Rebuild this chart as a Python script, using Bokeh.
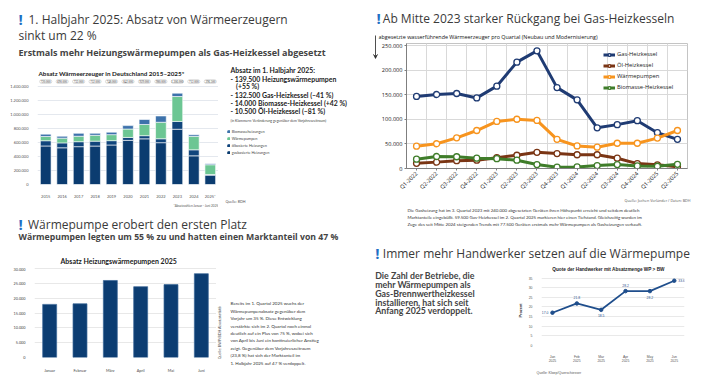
import math
from bokeh.plotting import figure
from bokeh.layouts import row, column
from bokeh.models import (ColumnDataSource, Label, Legend, LegendItem, FixedTicker,
                          Range1d, Arrow, VeeHead, Title)
from bokeh.embed import file_html
from bokeh.resources import INLINE

# ---------------- data ----------------
years = ["2015", "2016", "2017", "2018", "2019", "2020", "2021", "2022", "2023", "2024", "2025*"]
gas_annual = [551000, 525000, 541000, 550000, 565000, 631000, 653000, 598000, 790000, 410000, 132500]
oil_annual = [75000, 70000, 71000, 70000, 62000, 42000, 45000, 56000, 112000, 86000, 10500]
wp_annual = [61000, 68000, 78000, 84000, 86000, 120000, 160000, 236000, 356000, 193000, 139500]
bio_annual = [33000, 27000, 42000, 28000, 35000, 49000, 71000, 90000, 48000, 23000, 14000]
total_labels = ["720.000", "690.000", "732.000", "732.000", "748.000", "842.000", "929.000",
                "980.000", "1.306.000", "712.000", "296.500"]
annual_ticks = [0, 200000, 400000, 600000, 800000, 1000000, 1200000, 1400000]
annual_tick_labels = ["0", "200.000", "400.000", "600.000", "800.000", "1.000.000", "1.200.000", "1.400.000"]

quarters = ["Q1-2022", "Q2-2022", "Q3-2022", "Q4-2022", "Q1-2023", "Q2-2023", "Q3-2023",
            "Q4-2023", "Q1-2024", "Q2-2024", "Q3-2024", "Q4-2024", "Q1-2025", "Q2-2025"]
gas_q = [147000, 151000, 153000, 144000, 168000, 217000, 240000, 165000, 140000, 83000, 89500, 97500, 73000, 59500]
oil_q = [10500, 13000, 16000, 17000, 22000, 27000, 33000, 30500, 28000, 28000, 21000, 10000, 7500, 3500]
wp_q = [45500, 50500, 62500, 77500, 96000, 100500, 98000, 59500, 46000, 43500, 51500, 51500, 62000, 77500]
bio_q = [19000, 24500, 24000, 21000, 20000, 17000, 8000, 2700, 3300, 6000, 8000, 5300, 4600, 8500]
q_ticks = [0, 50000, 100000, 150000, 200000, 250000]
q_tick_labels = ["0", "50.000", "100.000", "150.000", "200.000", "250.000"]

monate = ["Januar", "Februar", "März", "April", "Mai", "Juni"]
wp_monthly = [18000, 18200, 26100, 24000, 24700, 28400]
m_ticks = [0, 5000, 10000, 15000, 20000, 25000, 30000]
m_tick_labels = ["0", "5.000", "10.000", "15.000", "20.000", "25.000", "30.000"]

quote_months = ["Jan\n2025", "Feb\n2025", "Mar\n2025", "Apr\n2025", "May\n2025", "Jun\n2025"]
quote_values = [17.0, 21.8, 18.5, 28.2, 28.2, 33.6]
quote_labels = ["17.0", "21.8", "18.5", "28.2", "28.2", "33.6"]
quote_ticks = [0, 5, 10, 15, 20, 25, 30, 35]

# ---------------- helpers ----------------
BLUE_EXCL = "#1f6fc4"
HEAD = "#3a3a3a"


def chartfig(w, h, L, T, R, B, **kw):
    p = figure(width=w, height=h, output_backend="svg", toolbar_location=None,
               min_border_left=L, min_border_top=T, min_border_right=R, min_border_bottom=B, **kw)
    p.outline_line_color = None
    p.border_fill_color = "white"
    p.background_fill_color = "white"
    return p


def textfig(w, h):
    f = figure(width=w, height=h, output_backend="svg", toolbar_location=None,
               x_range=Range1d(0, w), y_range=Range1d(h, 0),
               x_axis_location=None, y_axis_location=None,
               min_border_left=0, min_border_right=0, min_border_top=0, min_border_bottom=0)
    f.xgrid.grid_line_color = None
    f.ygrid.grid_line_color = None
    f.outline_line_color = None
    f.border_fill_color = "white"
    f.background_fill_color = "white"
    return f


def put(f, x, y, text, size, color="#333", bold=False, font="Open Sans", align="left", angle=0.0):
    f.add_layout(Label(x=x, y=y, text=text, text_font=font, text_font_size=f"{size}px",
                       text_color=color, text_font_style="bold" if bold else "normal",
                       text_align=align, text_baseline="middle", angle=angle))


def heading(f, x_excl, x_text, y, text, size=12):
    put(f, x_excl, y - 0.5, "!", size + 3, color=BLUE_EXCL, bold=True)
    put(f, x_text, y, text, size, color=HEAD)


def style_axes(p, font, size, color="#444"):
    for ax in (p.xaxis[0], p.yaxis[0]):
        ax.major_label_text_font = font
        ax.major_label_text_font_size = f"{size}px"
        ax.major_label_text_color = color
        ax.axis_line_color = None
        ax.major_tick_line_color = None
        ax.minor_tick_line_color = None
        ax.major_label_standoff = 3


def solo(p):
    # wrap a single plot so that sibling plots do not align their frames with it
    return column(p)


# ================= top-left: annual stacked bars (354 x 208) =================
tl_head = textfig(354, 64)
heading(tl_head, 18, 28, 19, "1. Halbjahr 2025: Absatz von Wärmeerzeugern")
put(tl_head, 18, 34.5, "sinkt um 22 %", 12, color=HEAD)
put(tl_head, 18, 52.3, "Erstmals mehr Heizungswärmepumpen als Gas-Heizkessel abgesetzt", 9.0,
    color="#444", bold=True)

stack_cols = ["#0b3c70", "#10457c", "#6cc693", "#3d72ab"]
tl_chart = chartfig(218, 144, 37, 13, 0, 21, x_range=years, y_range=Range1d(0, 1530000))
tl_chart.title.text = "Absatz Wärmeerzeuger in Deutschland 2015–2025*"
tl_chart.title.align = "left"
tl_chart.title.offset = 1
tl_chart.title.standoff = 2
tl_chart.title.text_font = "Lato"
tl_chart.title.text_font_size = "6.3px"
tl_chart.title.text_font_style = "bold"
tl_chart.title.text_color = "#222"
src = ColumnDataSource(dict(years=years, gas=gas_annual, oil=oil_annual, wp=wp_annual, bio=bio_annual))
tl_chart.vbar_stack(["gas", "oil", "wp", "bio"], x="years", width=0.65, color=stack_cols,
                    line_color="white", line_width=0.6, source=src)
tl_chart.rect(x=years, y=1472000, width=0.74, height=52000, fill_color="white",
              line_color="#c4c4c4", line_width=0.6, border_radius=2)
tl_chart.text(x=years, y=1472000, text=total_labels, text_font_size="3px", text_align="center",
              text_baseline="middle", text_color="#333", text_font="Lato")
style_axes(tl_chart, "Lato", 4, "#555")
tl_chart.yaxis.ticker = FixedTicker(ticks=annual_ticks)
tl_chart.yaxis.major_label_overrides = dict(zip(annual_ticks, annual_tick_labels))
tl_chart.xgrid.grid_line_color = None
tl_chart.ygrid.ticker = FixedTicker(ticks=annual_ticks)
tl_chart.ygrid.grid_line_color = "#dde2ea"
tl_chart.ygrid.grid_line_width = 0.8
tl_chart.add_layout(Title(text="*Absatzzahlen Januar - Juni 2025", align="right",
                          text_font="Lato", text_font_size="3.1px", text_color="#555",
                          text_font_style="normal", standoff=1), "below")

tl_side = textfig(136, 144)
block = [(12, 5, "Absatz im 1. Halbjahr 2025:"),
         (12, 14.5, "- 139.500 Heizungswärmepumpen"),
         (17.5, 21.7, "(+55 %)"),
         (12, 30, "- 132.500 Gas-Heizkessel (–41 %)"),
         (12, 38.3, "- 14.000 Biomasse-Heizkessel (+42 %)"),
         (12, 46.3, "- 10.500 Öl-Heizkessel (–81 %)")]
for bx, by, bt in block:
    put(tl_side, bx, by, bt, 6.9, color="#222", bold=True, font="Lato")
put(tl_side, 12, 56, "(in Klammern: Veränderung gegenüber dem Vorjahreszeitraum)", 3.5,
    color="#444", font="Lato")
put(tl_side, 7, 137, "Quelle: BDH", 3.6, color="#555", font="Lato")
leg_names = ["Biomasseheizungen", "Wärmepumpen", "ölbasierte Heizungen", "gasbasierte Heizungen"]
leg_cols = [stack_cols[3], stack_cols[2], stack_cols[1], stack_cols[0]]
leg_items = []
for nm, c in zip(leg_names, leg_cols):
    # zero-size swatch source so that the legend can paint its colour
    r = tl_side.vbar(x=[0], top=[0], bottom=[0], width=0, fill_color=c, line_color=c)
    leg_items.append(LegendItem(label=nm, renderers=[r]))
tl_side.add_layout(Legend(items=leg_items, location=(8.7, 52.6), label_text_font="Lato",
                          label_text_font_size="3.8px", label_text_color="#444",
                          glyph_width=3, glyph_height=3, label_height=3, label_standoff=2,
                          spacing=2, padding=0, margin=0, background_fill_alpha=0,
                          border_line_alpha=0))

tl_panel = column(tl_head, row(solo(tl_chart), solo(tl_side)))

# ================= bottom-left: monthly heat pumps (354 x 168) =================
bl_head = textfig(354, 59)
heading(bl_head, 18, 27.5, 15.8, "Wärmepumpe erobert den ersten Platz")
put(bl_head, 18, 28.3, "Wärmepumpen legten um 55 % zu und hatten einen Marktanteil von 47 %", 8.7,
    color="#444", bold=True)
put(bl_head, 60, 52, "Absatz Heizungswärmepumpen 2025", 7, color="#222", bold=True, font="Lato")

bl_chart = chartfig(216, 109, 34, 0, 0, 19, x_range=monate, y_range=Range1d(0, 30500))
bl_chart.vbar(x=monate, top=wp_monthly, width=0.46, fill_color="#0c3d72", line_color="#3a6696",
              line_width=0.7)
style_axes(bl_chart, "Lato", 3.8, "#444")
bl_chart.yaxis.ticker = FixedTicker(ticks=m_ticks)
bl_chart.yaxis.major_label_overrides = dict(zip(m_ticks, m_tick_labels))
bl_chart.xgrid.grid_line_color = None
bl_chart.ygrid.ticker = FixedTicker(ticks=m_ticks)
bl_chart.ygrid.grid_line_color = "#e2e2e2"
bl_chart.ygrid.grid_line_width = 0.8
bl_chart.xaxis.major_label_standoff = 4

bl_side = textfig(138, 109)
put(bl_side, 2.5, 65, "Quelle: BWP/BDH Absatzstatistik", 3.6, color="#555", font="Lato",
    align="center", angle=math.pi / 2)
para_bl = ["Bereits im 1. Quartal 2025 wuchs der",
           "Wärmepumpenabsatz gegenüber dem",
           "Vorjahr um 35 %. Diese Entwicklung",
           "verstärkte sich im 2. Quartal noch einmal",
           "deutlich auf ein Plus von 75 %, wobei sich",
           "von April bis Juni ein kontinuierlicher Anstieg",
           "zeigt. Gegenüber dem Vorjahreszeitraum",
           "(23,8 %) hat sich der Marktanteil im",
           "1. Halbjahr 2025 auf 47 % verdoppelt."]
for i, line in enumerate(para_bl):
    put(bl_side, 14, 36.3 + 7.4 * i, line, 4.5, color="#333", font="Lato")

bl_panel = column(bl_head, row(solo(bl_chart), solo(bl_side)))

# ================= top-right: quarterly lines (352 x 235) =================
tr_head = textfig(352, 30)
heading(tr_head, 22, 28.3, 17.5, "Ab Mitte 2023 starker Rückgang bei Gas-Heizkesseln")

tr_strip = textfig(24, 166)
tr_strip.add_layout(Arrow(end=VeeHead(size=4, line_color="#222", fill_color="#222", line_width=0.6),
                          x_start=21, y_start=5, x_end=21, y_end=28,
                          line_color="#222", line_width=0.8))

tr_ylab = textfig(328, 13)
put(tr_ylab, 0, 6.7, "abgesetzte wasserführende  Wärmeerzeuger  pro Quartal (Neubau und Modernisierung)",
    5.4, color="#111")

tr_chart = chartfig(328, 153, 28, 0, 19, 25, x_range=Range1d(-0.5, 13.5), y_range=Range1d(0, 255000))
tr_chart.outline_line_color = "#c4c4c4"
xs = list(range(len(quarters)))
series = [("Gas-Heizkessel", gas_q, "#1f3b73"),
          ("Öl-Heizkessel", oil_q, "#7a3514"),
          ("Wärmepumpen", wp_q, "#f7941e"),
          ("Biomasse-Heizkessel", bio_q, "#3f7d2a")]
items = []
for name, vals, col in series:
    lr = tr_chart.line(xs, vals, line_color=col, line_width=3)
    sr = tr_chart.scatter(xs, vals, size=6, fill_color="white", line_color=col, line_width=1.3)
    items.append(LegendItem(label=name, renderers=[lr, sr]))
tr_chart.add_layout(Legend(items=items, location="top_right", label_text_font="Open Sans",
                           label_text_font_size="5.8px", label_text_color="#222", glyph_width=12,
                           glyph_height=7, label_height=7, label_width=63, label_standoff=2,
                           spacing=3, padding=6, margin=1,
                           background_fill_alpha=0, border_line_alpha=0))
tr_chart.xaxis.ticker = FixedTicker(ticks=xs)
tr_chart.xaxis.major_label_overrides = dict(zip(xs, quarters))
tr_chart.xaxis.major_label_orientation = math.pi / 4
tr_chart.yaxis.ticker = FixedTicker(ticks=q_ticks)
tr_chart.yaxis.major_label_overrides = dict(zip(q_ticks, q_tick_labels))
for ax in (tr_chart.xaxis[0], tr_chart.yaxis[0]):
    ax.major_label_text_font = "Open Sans"
    ax.major_label_text_font_size = "5.6px"
    ax.major_label_text_color = "#222"
    ax.axis_line_color = "#7f7f7f"
    ax.major_tick_line_color = "#7f7f7f"
    ax.major_tick_out = 2
    ax.major_tick_in = 0
    ax.minor_tick_line_color = None
    ax.major_label_standoff = 2
tr_chart.xgrid.ticker = FixedTicker(ticks=[i + 0.5 for i in range(13)])
tr_chart.xgrid.grid_line_color = "#d9d9d9"
tr_chart.ygrid.ticker = FixedTicker(ticks=q_ticks)
tr_chart.ygrid.grid_line_color = "#d9d9d9"

tr_foot = textfig(352, 39)
put(tr_foot, 336, 4, "Quelle: Jochen Vorländer / Daten: BDH", 3.7, color="#555", align="right")
para_tr = ["Die Gasheizung hat im 3. Quartal 2023 mit 240.000 abgesetzten Geräten ihren Höhepunkt erreicht und seitdem deutlich",
           "Marktanteile eingebüßt. 59.500 Gas-Heizkessel im 2. Quartal 2025 markieren hier einen Tiefstand. Gleichzeitig wurden im",
           "Zuge des seit Mitte 2024 steigenden Trends mit 77.500 Geräten erstmals mehr Wärmepumpen als Gasheizungen verkauft."]
for i, line in enumerate(para_tr):
    put(tr_foot, 53, 14.3 + 7.0 * i, line, 4.4, color="#333", font="Lato")

tr_panel = column(solo(tr_head),
                  row(solo(tr_strip), column(solo(tr_ylab), solo(tr_chart))),
                  solo(tr_foot))

# ================= bottom-right: quote line (352 x 141) =================
br_head = textfig(352, 27)
heading(br_head, 20.7, 28.3, 17.8, "Immer mehr Handwerker setzen auf die Wärmepumpe")

br_left = textfig(160, 114)
para_br = ["Die Zahl der Betriebe, die", "mehr Wärmepumpen als", "Gas-Brennwertheizkessel",
           "installieren, hat sich seit", "Anfang 2025 verdoppelt."]
for i, line in enumerate(para_br):
    put(br_left, 20.7, 13 + 8.85 * i, line, 8.8, color="#444", bold=True, font="Lato")

br_ctitle = textfig(192, 13)
put(br_ctitle, 94, 7.3, "Quote der Handwerker mit Absatzmenge WP > BW", 4.7, color="#222",
    bold=True, font="Liberation Sans", align="center")

br_chart = chartfig(192, 101, 27, 0, 22, 23, x_range=Range1d(-0.45, 5.42), y_range=Range1d(0, 36.3))
qx = list(range(len(quote_values)))
qcol = "#1f4e8c"
br_chart.line(qx, quote_values, line_color=qcol, line_width=1.8)
br_chart.scatter(qx, quote_values, size=3.5, fill_color=qcol, line_color=qcol)
style_axes(br_chart, "Liberation Sans", 3.4, "#555")
br_chart.xaxis.ticker = FixedTicker(ticks=qx)
br_chart.xaxis.major_label_overrides = dict(zip(qx, quote_months))
br_chart.yaxis.ticker = FixedTicker(ticks=quote_ticks)
br_chart.xgrid.grid_line_color = None
br_chart.ygrid.ticker = FixedTicker(ticks=quote_ticks)
br_chart.ygrid.grid_line_color = "#e0e0e0"
br_chart.ygrid.grid_line_width = 0.7
br_chart.yaxis.axis_label = "Prozent"
br_chart.yaxis.axis_label_text_font = "Liberation Sans"
br_chart.yaxis.axis_label_text_font_size = "3.8px"
br_chart.yaxis.axis_label_text_font_style = "bold"
br_chart.yaxis.axis_label_text_color = "#333"
br_chart.yaxis.axis_label_standoff = 3
br_chart.add_layout(Title(text="Quelle: Kloep/Querschiesser", align="left", offset=-5,
                          text_font="Liberation Sans", text_font_size="3.5px", text_color="#555",
                          text_font_style="normal", standoff=4), "below")
offsets = [(-4, 0, "right"), (0, 6, "center"), (0, -6, "center"),
           (0, 6, "center"), (0, -6, "center"), (4, 0, "left")]
for xv, yv, lab, (ox, oy, al) in zip(qx, quote_values, quote_labels, offsets):
    br_chart.add_layout(Label(x=xv, y=yv, text=lab, x_offset=ox, y_offset=oy, text_align=al,
                              text_baseline="middle", text_font="Liberation Sans",
                              text_font_size="3.4px", text_color=qcol))

br_panel = column(solo(br_head),
                  row(solo(br_left), column(solo(br_ctitle), solo(br_chart))))

layout = row(column(tl_panel, bl_panel), column(tr_panel, br_panel))
open("out.html", "w").write(file_html(layout, INLINE))
